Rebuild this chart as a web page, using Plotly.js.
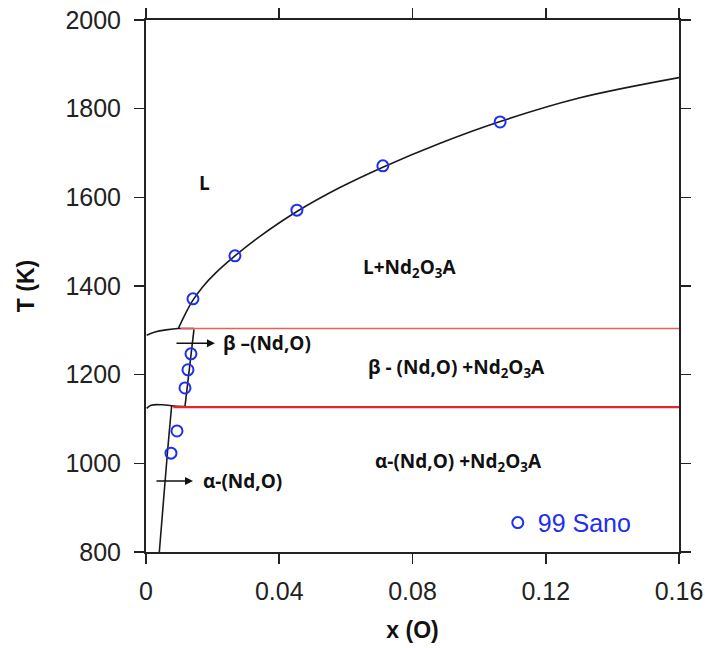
<!DOCTYPE html>
<html><head><meta charset="utf-8">
<script src="https://cdn.plot.ly/plotly-3.0.1.min.js"></script>
<style>html,body{margin:0;padding:0;background:#fff}#chart{width:705px;height:648px}</style>
</head><body><div id="chart"></div>
<script>
// Liquidus (L / L+Nd2O3A boundary)
const liqX = [0.0097,0.0120,0.0141,0.0170,0.0207,0.0267,0.0342,0.0453,0.0582,0.0711,0.0883,0.1063,0.1300,0.1600];
const liqT = [1304,1340,1368,1398,1428,1468,1512,1568,1622,1668,1722,1771,1824,1870];
// beta upper boundary (left) and tie segment
const betaTopX = [0.0002,0.0030,0.0060,0.0097,0.0144];
const betaTopT = [1289,1297,1301,1304,1304];
// beta right boundary (solvus)
const betaSolX = [0.0144,0.0117];
const betaSolT = [1302,1128];
// beta lower boundary (left)
const betaBotX = [0.0002,0.0015,0.0050,0.0077,0.0117];
const betaBotT = [1124,1131,1132,1130,1128];
// alpha solvus
const alphaSolX = [0.0077,0.0065,0.0053,0.0040];
const alphaSolT = [1130,1030,920,800];
// invariant lines (red)
const upperInvX = [0.0104,0.16], upperInvT = [1304,1304];
const lowerInvX = [0.0082,0.16], lowerInvT = [1127,1127];
// Sano 1999 data
const sanoX = [0.0141,0.0267,0.0453,0.0711,0.1063,0.0135,0.0126,0.0117,0.0093,0.0075];
const sanoT = [1371,1468,1571,1671,1770,1247,1211,1170,1073,1023];
// axis ticks
const xTicks = [0,0.04,0.08,0.12,0.16];
const xTickText = ['0','0.04','0.08','0.12','0.16'];
const yTicks = [800,1000,1200,1400,1600,1800,2000];

const blk = {color:'#1a1a1a', width:1.6};
const mk = (x,y,line,shape) => ({x, y, mode:'lines', line:Object.assign({}, line, shape?{shape}:{}), showlegend:false, hoverinfo:'skip'});
const traces = [
  mk(liqX, liqT, blk, 'spline'),
  mk(betaTopX, betaTopT, blk, 'spline'),
  mk(betaSolX, betaSolT, blk),
  mk(betaBotX, betaBotT, blk, 'spline'),
  mk(alphaSolX, alphaSolT, blk, 'spline'),
  mk(upperInvX, upperInvT, {color:'#f25a5a', width:1.6}),
  mk(lowerInvX, lowerInvT, {color:'#e8242a', width:2.2}),
  {x:sanoX, y:sanoT, mode:'markers', name:'99 Sano',
   marker:{symbol:'circle-open', size:11, color:'#1f2ff0', line:{width:2, color:'#1f2ff0'}}, showlegend:true}
];

const lab = {family:'Open Sans, Lato, sans-serif', size:19, color:'#111', weight:'bold'};
const ann = (x,y,text,xanchor) => ({x, y, xref:'x', yref:'y', text, showarrow:false, font:lab, xanchor:xanchor||'center', yanchor:'middle'});
const arrow = (x0,x1,y) => ({x:x1, y, ax:x0, ay:y, xref:'x', yref:'y', axref:'x', ayref:'y', text:'', showarrow:true, arrowhead:2, arrowsize:1, arrowwidth:1.6, arrowcolor:'#111'});

const layout = {
  width:705, height:648,
  margin:{l:146, r:26, t:20, b:96},
  paper_bgcolor:'#fff', plot_bgcolor:'#fff',
  font:{family:'Liberation Sans, Arial, sans-serif', color:'#222'},
  xaxis:{range:[0,0.16], tickvals:xTicks, ticktext:xTickText, showgrid:false, zeroline:false,
    showline:true, linecolor:'#222', linewidth:2, mirror:'allticks', ticks:'outside', ticklen:10, tickwidth:1.6, tickcolor:'#222',
    tickfont:{size:25, color:'#222'}, ticklabelstandoff:6,
    title:{text:'x (O)', font:{size:23, weight:'bold', color:'#111'}, standoff:18}},
  yaxis:{range:[800,2000], tickvals:yTicks, showgrid:false, zeroline:false,
    showline:true, linecolor:'#222', linewidth:2, mirror:'allticks', ticks:'outside', ticklen:10, tickwidth:1.6, tickcolor:'#222',
    tickfont:{size:25, color:'#222'}, ticklabelstandoff:8,
    title:{text:'T (K)', font:{size:23, weight:'bold', color:'#111'}, standoff:24}},
  showlegend:true,
  legend:{x:0.66, y:0.098, xanchor:'left', yanchor:'top', bgcolor:'rgba(0,0,0,0)',
    font:{size:25, color:'#1f2ff0', family:'Liberation Sans, Arial, sans-serif'}},
  annotations:[
    ann(0.0177, 1632, 'L'),
    ann(0.0790, 1441, 'L+Nd<sub>2</sub>O<sub>3</sub>A'),
    ann(0.0932, 1215, 'β - (Nd,O) +Nd<sub>2</sub>O<sub>3</sub>A'),
    ann(0.0938, 1003, 'α-(Nd,O) +Nd<sub>2</sub>O<sub>3</sub>A'),
    ann(0.0225, 1271, 'β –(Nd,O)', 'left'),
    ann(0.0166, 960, 'α-(Nd,O)', 'left'),
    arrow(0.0087, 0.0207, 1271),
    arrow(0.0027, 0.0141, 960)
  ]
};
Plotly.newPlot('chart', traces, layout, {displayModeBar:false, staticPlot:true});
</script></body></html>
